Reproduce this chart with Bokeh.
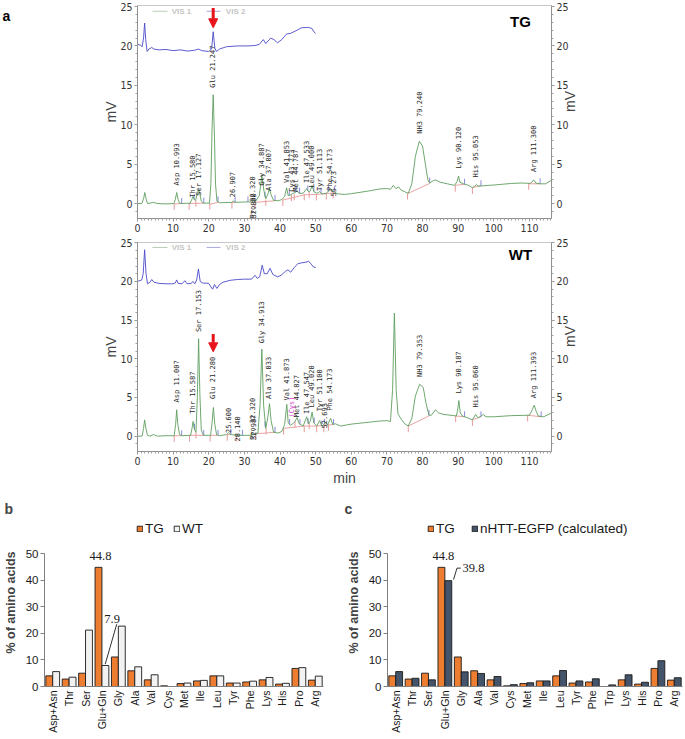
import math
from bokeh.plotting import figure
from bokeh.models import (Range1d, FactorRange, LinearAxis, SingleIntervalTicker, ColumnDataSource,
                          Label, LabelSet, Legend, LegendItem, Arrow, NormalHead)
from bokeh.layouts import column, row
from bokeh.transform import dodge
from bokeh.core.properties import value
from bokeh.embed import file_html
from bokeh.resources import INLINE

# ---------------- Panel a data (chromatograms) ----------------
tg_vis1_x = [0, 1.2, 1.7, 2.05, 2.4, 2.8, 3.5, 4.5, 5.5, 8, 10.2, 10.6, 11.0, 11.4, 11.8, 12.5, 14.8, 15.2, 15.6,
             15.9, 16.3, 16.8, 17.15, 17.5, 17.9, 18.5, 20.2, 20.6, 20.9, 21.25, 21.6, 21.9, 22.3, 23, 26.5, 26.9,
             27.3, 30, 32, 32.5, 33, 34.2, 34.9, 35.5, 36.0, 36.6, 37.05, 37.5, 38.2, 39.5, 40.5, 41.3, 41.85, 42.3,
             43.0, 43.7, 44.3, 44.8, 45.3, 46.5, 47.5, 48.0, 48.5, 49.0, 49.5, 50.3, 51.1, 51.8, 53.0, 54.2, 54.8,
             55.3, 56, 58, 60, 65, 68, 70, 71, 71.8, 72.5, 73.3, 74, 75, 76, 77, 78, 79.1, 80, 80.8, 81.5, 82, 83,
             83.6, 85, 87, 89, 89.7, 90.1, 90.5, 91.5, 93, 94, 94.6, 95.1, 95.6, 97, 100, 105, 108, 110.3, 111.2,
             111.8, 113, 114.5, 116.2]
tg_vis1_y = [0, 0, 0.6, 1.4, 0.6, 0.0, 0.05, 0.15, 0.0, -0.05, 0.0, 0.5, 1.4, 0.5, 0.05, 0.0, 0.05, 0.5, 0.9,
             0.5, 0.4, 1.3, 1.8, 1.2, 0.3, 0.05, 0.05, 2.5, 9.0, 13.8, 8.5, 2.5, 0.3, 0.1, 0.15, 0.35,
             0.15, 0.2, 0.2, 0.35, 0.2, 1.0, 3.6, 1.6, 0.6, 1.2, 1.9, 1.1, 0.4, 0.35, 0.5, 0.9, 2.0, 1.0,
             1.1, 1.3, 1.4, 1.6, 1.3, 1.3, 1.9, 1.5, 1.6, 2.3, 1.5, 1.3, 1.5, 1.2, 1.3, 1.9, 1.5,
             1.5, 1.25, 1.15, 1.25, 1.6, 1.85, 1.9, 1.8, 2.3, 1.9, 2.1, 1.7, 1.5, 1.3, 2.5, 6.0, 7.9, 7.3, 5.0, 3.0,
             2.6, 2.9, 3.0, 2.7, 2.5, 2.3, 2.8, 3.5, 2.7, 2.5, 2.3, 2.0, 2.2, 2.4, 2.2, 2.25, 2.35, 2.55, 2.6, 2.55,
             3.0, 2.6, 2.5, 2.5, 2.95]
tg_vis2_x = [0, 0.8, 1.3, 1.7, 2.0, 2.3, 2.7, 3.2, 4.0, 4.6, 6, 8, 10, 12, 14, 16, 17.2, 18, 20, 20.8, 21.25, 21.7,
             22.2, 23, 25, 28, 31, 33, 34.2, 35.3, 36.0, 37.4, 38.3, 39.3, 40.5, 41.8, 43, 44.8, 46, 48, 49, 49.5, 50]
tg_vis2_y = [20.2, 20.1, 19.9, 21.0, 22.9, 20.8, 19.3, 19.6, 19.8, 19.6, 19.5, 19.55, 19.4, 19.5, 19.35, 19.45, 19.6,
             19.4, 19.3, 19.6, 21.8, 19.7, 19.3, 19.6, 19.9, 20.0, 20.0, 20.05, 20.2, 20.8, 20.3, 21.0, 20.8, 20.4,
             20.8, 21.5, 21.6, 22.0, 22.3, 22.35, 22.2, 21.8, 21.6]

wt_vis1_x = [0, 1.3, 1.7, 2.0, 2.4, 2.8, 3.5, 4.5, 5.5, 8, 10.3, 10.7, 11.0, 11.3, 11.8, 12.5, 14.9, 15.3, 15.6,
             15.95, 16.4, 16.8, 17.15, 17.5, 17.9, 18.5, 20.5, 20.9, 21.3, 21.7, 22.2, 23, 25, 25.6, 26.2, 28, 30,
             32, 33, 33.8, 34.4, 34.9, 35.4, 36.0, 36.6, 37.05, 37.5, 38.2, 39.5, 40.5, 41.3, 41.9, 42.3, 43.0,
             43.6, 44.2, 44.8, 45.4, 46.5, 47.5, 48.0, 48.5, 49.0, 49.5, 50.3, 51.1, 51.8, 52.8, 53.3, 54.2, 54.8,
             55.5, 57, 60, 65, 68, 70, 71.0, 71.6, 72.1, 72.6, 73.1, 74, 75, 76, 77, 78, 79.2, 80.2, 81.0, 81.8,
             82.5, 83.6, 84.5, 86, 88, 89.5, 89.8, 90.2, 90.6, 91.2, 92.5, 94, 94.9, 95.5, 96.2, 97, 97.8, 100,
             105, 110, 110.8, 111.35, 111.9, 112.5, 114, 116.2]
wt_vis1_y = [0, 0, 1.0, 2.1, 0.9, 0.1, 0.0, 0.2, 0.0, 0.05, 0.05, 1.5, 3.4, 1.6, 0.2, 0.05, 0.1, 1.0, 1.9,
             0.9, 0.5, 5.0, 12.6, 5.5, 0.8, 0.1, 0.1, 1.6, 3.7, 1.5, 0.2, 0.05, 0.2, 0.45, 0.2, 0.1, 0.1,
             0.1, 0.3, 0.4, 4.0, 11.25, 4.0, 1.0, 2.5, 4.2, 2.0, 0.5, 0.4, 0.6, 1.5, 4.1, 1.7, 1.4,
             1.6, 1.9, 2.4, 1.6, 1.3, 2.5, 1.6, 1.9, 3.1, 1.7, 1.3, 2.0, 1.3, 1.8, 1.4, 2.3, 1.5,
             1.6, 1.3, 1.55, 1.8, 1.95, 2.0, 1.9, 6.0, 15.9, 6.0, 2.9, 2.2, 1.6, 1.3, 2.3, 5.2, 6.7, 6.3, 4.2, 2.7,
             2.7, 3.4, 3.0, 2.8, 2.7, 2.6, 3.2, 4.6, 3.0, 2.6, 2.4, 2.1, 2.8, 2.4, 2.5, 2.8, 2.5, 2.5,
             2.65, 2.7, 3.4, 4.0, 3.2, 2.6, 2.5, 3.0]
wt_vis2_x = [0, 1.2, 1.6, 2.0, 2.4, 2.8, 3.5, 4.0, 4.6, 6, 8, 10, 10.6, 11.0, 11.4, 12.5, 13.3, 13.9, 15.0, 15.6,
             16.1, 16.6, 17.1, 17.6, 18.3, 20, 20.6, 21.1, 21.6, 22.3, 23.0, 24, 26, 28, 30, 32, 33.0, 33.6, 34.3,
             35.0, 35.6, 36.4, 37.2, 38, 39.3, 40.3, 41.5, 42.2, 43, 44, 45, 46, 47.3, 48, 48.7, 49.3, 50]
wt_vis2_y = [20.0, 20.2, 21.0, 24.1, 21.0, 19.7, 19.9, 20.25, 19.9, 19.75, 19.7, 19.7, 19.8, 20.2, 19.75, 19.7, 20.1,
             19.7, 19.75, 20.0, 19.7, 20.2, 21.6, 20.0, 19.8, 19.75, 19.3, 19.0, 19.6, 19.1, 19.6, 19.9, 20.15,
             20.25, 20.3, 20.3, 20.8, 20.4, 20.6, 22.1, 21.0, 21.0, 21.7, 20.9, 20.6, 20.8, 21.3, 21.5, 21.2, 21.8,
             22.3, 22.4, 22.5, 22.6, 22.3, 21.9, 21.8]

tg_peak_text = ["Asp  10.993", "Thr  15.580", "Ser  17.127", "Glu  21.247", "     26.907", "Pro  32.320",
                "     32.800", "Gly  34.887", "Ala  37.007", "Val  41.853", "Cys  43.773", "Met  44.787",
                "Ile  47.533", "Leu  49.000", "Tyr  51.113", "Phe  54.173", "     55.273", "NH3  79.240",
                "Lys  90.120", "His  95.053", "Arg 111.300"]
tg_peak_x = [10.99, 15.45, 17.13, 21.25, 26.91, 32.32, 32.62, 34.89, 37.01, 41.85, 43.5, 44.6,
             47.53, 49.0, 51.11, 54.17, 55.27, 79.24, 90.12, 95.05, 111.3]
tg_peak_y = [2.3, 0.75, 1.0, 14.7, 0.8, -1.9, -1.9, 2.3, 1.6, 2.6, 1.5, 1.5,
             2.6, 2.0, 1.6, 1.6, 0.9, 8.85, 4.4, 3.3, 4.0]

wt_peak_text = ["Asp  11.007", "Thr  15.587", "Ser  17.153", "Glu  21.280", "     25.600", "     28.140",
                "Pro  32.320", "     32.987", "Gly  34.913", "Ala  37.033", "Val  41.873", "Met  44.827",
                "Ile  47.547", "Leu  49.020", "Tyr  51.100", "     52.693", "Phe  54.173", "NH3  79.353",
                "Lys  90.187", "His  95.060", "Arg 111.393"]
wt_peak_x = [11.01, 15.59, 17.15, 21.28, 25.6, 28.14, 32.32, 32.7, 34.91, 37.03, 41.87, 44.83,
             47.55, 49.02, 51.1, 52.69, 54.17, 79.35, 90.19, 95.06, 111.39]
wt_peak_y = [4.35, 2.9, 13.45, 4.8, 0.4, -0.7, -0.5, -0.5, 12.0, 4.8, 4.6, 2.45,
             2.85, 3.7, 3.2, 1.0, 3.3, 7.65, 5.5, 3.7, 4.9]

tg_start_x = [10.3, 14.5, 16.4, 20.3, 26.5, 33.0, 36.0, 40.8, 43.2, 44.0, 46.8, 48.2, 50.2, 53.0, 54.9, 75.8, 89.2, 94.0, 109.8]
tg_start_y = [0.0, 0.0, 0.4, 0.05, 0.15, 0.2, 0.5, 0.5, 1.1, 1.2, 1.2, 1.5, 1.2, 1.3, 1.45, 1.3, 2.3, 2.0, 2.55]
tg_end_x = [12.4, 15.9, 18.6, 22.6, 27.4, 31.0, 35.8, 38.6, 42.6, 44.5, 45.5, 47.8, 49.5, 51.5, 53.6, 55.3, 82.0, 91.8, 96.4, 113.0]
tg_end_y = [0.0, 0.5, 0.05, 0.2, 0.15, 0.2, 0.8, 0.4, 1.0, 1.5, 1.3, 1.6, 1.5, 1.3, 1.5, 1.5, 2.6, 2.45, 2.25, 2.5]
tg_base_x0 = [10.3, 14.5, 20.3, 26.5, 33.0, 40.8, 46.8, 50.2, 75.8, 89.2, 94.0, 109.8]
tg_base_y0 = [-0.05, 0.0, -0.1, 0.1, 0.15, 0.45, 1.1, 1.15, 1.25, 2.3, 2.0, 2.5]
tg_base_x1 = [12.3, 18.6, 22.6, 27.4, 38.6, 46.8, 50.2, 55.3, 82.0, 91.8, 96.4, 113.0]
tg_base_y1 = [0.0, 0.05, 0.15, 0.15, 0.35, 1.1, 1.15, 1.35, 2.55, 2.45, 2.3, 2.5]

wt_start_x = [10.3, 14.6, 16.4, 20.4, 25.2, 27.8, 33.2, 36.1, 41.0, 44.2, 46.8, 48.2, 50.3, 52.3, 53.6, 76.0, 89.3, 94.0, 109.5]
wt_start_y = [0.05, 0.1, 0.5, 0.1, 0.2, 0.1, 0.3, 1.0, 1.0, 1.9, 1.3, 1.7, 1.3, 1.3, 1.5, 1.3, 2.6, 2.1, 2.7]
wt_end_x = [12.4, 16.0, 18.6, 22.6, 26.2, 29.5, 35.8, 38.6, 42.7, 45.6, 47.9, 49.6, 51.6, 52.5, 55.0, 81.8, 91.8, 96.4, 113.3]
wt_end_y = [0.05, 0.9, 0.1, 0.1, 0.2, 0.1, 1.2, 0.5, 1.5, 1.5, 1.6, 1.7, 1.3, 1.5, 1.5, 2.7, 2.5, 2.5, 2.5]
wt_base_x0 = [10.3, 14.6, 20.4, 25.2, 33.2, 41.0, 46.8, 50.3, 76.0, 89.3, 94.0, 109.5]
wt_base_y0 = [0.05, 0.1, 0.1, 0.2, 0.3, 1.0, 1.3, 1.3, 1.3, 2.6, 2.1, 2.7]
wt_base_x1 = [12.4, 18.6, 22.6, 26.2, 38.6, 46.8, 50.3, 55.0, 81.8, 91.8, 96.4, 113.3]
wt_base_y1 = [0.05, 0.1, 0.1, 0.2, 0.5, 1.3, 1.3, 1.5, 2.6, 2.5, 2.5, 2.5]

# ---------------- Panels b / c data ----------------
cats_b = ["Asp+Asn", "Thr", "Ser", "Glu+Gln", "Gly", "Ala", "Val", "Cys", "Met", "Ile", "Leu", "Tyr", "Phe",
          "Lys", "His", "Pro", "Arg"]
tg_b = [4.0, 2.8, 5.0, 44.8, 11.1, 5.9, 2.5, 0.25, 1.1, 2.1, 4.0, 1.3, 1.7, 2.5, 0.9, 6.8, 2.4]
wt_b = [5.6, 3.5, 21.2, 7.9, 22.7, 7.4, 4.4, 0.0, 1.3, 2.3, 4.0, 1.3, 2.0, 3.4, 1.2, 7.1, 3.9]

cats_c = ["Asp+Asn", "Thr", "Ser", "Glu+Gln", "Gly", "Ala", "Val", "Cys", "Met", "Ile", "Leu", "Tyr", "Phe",
          "Trp", "Lys", "His", "Pro", "Arg"]
tg_c = [4.0, 2.8, 5.0, 44.8, 11.1, 5.9, 2.5, 0.25, 1.1, 2.1, 4.0, 1.3, 1.7, 0.0, 2.5, 0.9, 6.8, 2.4]
nhtt_c = [5.6, 3.1, 2.5, 39.8, 5.5, 4.9, 3.75, 0.7, 1.4, 2.1, 6.0, 2.1, 2.9, 0.6, 4.4, 1.6, 9.7, 3.3]

ORANGE = "#ED7D31"
NAVY = "#44546A"
LIGHT = "#F2F2F2"
NARROW = "'Liberation Sans Narrow', 'DejaVu Sans Condensed', 'Liberation Sans', sans-serif"
ARIAL = "Liberation Sans"


def chromatogram(vis1_x, vis1_y, vis2_x, vis2_y, ptext, px, py, sx, sy, ex, ey, bx0, by0, bx1, by1,
                 yr, width, left, height, btop, bbottom, tag, arrow_y, with_min, cys=None):
    p = figure(width=width, height=height, x_range=Range1d(0, 116.2), y_range=Range1d(*yr),
               output_backend="svg", toolbar_location=None,
               min_border_left=left, min_border_right=133, min_border_top=btop, min_border_bottom=bbottom)
    p.xgrid.visible = False
    p.ygrid.visible = False
    p.outline_line_color = "#c8c8c8"

    right = LinearAxis()
    p.add_layout(right, "right")
    for ax in p.yaxis:
        ax.ticker = SingleIntervalTicker(interval=5, num_minor_ticks=5)
        ax.axis_label = "mV"
        ax.axis_label_text_font = ARIAL
        ax.axis_label_text_font_style = "normal"
        ax.axis_label_text_font_size = "14px"
        ax.axis_label_standoff = -2
    if "axis_label_orientation" in right.properties():
        right.axis_label_orientation = math.pi / 2
    for ax in p.xaxis:
        ax.ticker = SingleIntervalTicker(interval=10, num_minor_ticks=10)
    if with_min:
        p.xaxis[0].axis_label = "min"
        p.xaxis[0].axis_label_text_font = ARIAL
        p.xaxis[0].axis_label_text_font_style = "normal"
        p.xaxis[0].axis_label_text_font_size = "14px"
        p.xaxis[0].axis_label_standoff = 2
    for ax in list(p.xaxis) + list(p.yaxis):
        ax.axis_line_color = "#909090"
        ax.major_tick_line_color = "#909090"
        ax.minor_tick_line_color = "#a0a0a0"
        ax.major_tick_in = 0
        ax.major_tick_out = 3
        ax.minor_tick_in = 0
        ax.minor_tick_out = 2
        ax.major_label_text_font = NARROW
        ax.major_label_text_font_size = "10.5px"
        ax.major_label_text_color = "#333333"
        ax.major_label_standoff = 2

    # integration baselines and markers
    p.segment(x0=bx0, y0=by0, x1=bx1, y1=by1, line_color="#e89a9a", line_width=0.9)
    p.segment(x0=sx, y0=sy, x1=sx, y1=[v - 0.8 for v in sy], line_color="#e89a9a", line_width=1)
    p.segment(x0=ex, y0=ey, x1=ex, y1=[v + 0.7 for v in ey], line_color="#8a8ae0", line_width=1)

    # traces
    p.line(vis2_x, vis2_y, line_color="#4a4ac8", line_width=0.9)
    p.line(vis1_x, vis1_y, line_color="#5f9e5f", line_width=0.9)

    # legend VIS1 / VIS2
    p.segment(x0=[4.2], y0=[24.4], x1=[8.4], y1=[24.4], line_color="#b8ccb8", line_width=1)
    p.segment(x0=[19.4], y0=[24.4], x1=[23.3], y1=[24.4], line_color="#a8a8dc", line_width=1)
    p.text(x=[9.6, 24.8], y=[24.4, 24.4], text=["VIS 1", "VIS 2"], text_font=value(ARIAL),
           text_font_style="bold", text_font_size=value("8px"), text_color="#c4c4c4",
           text_baseline="middle", text_align="left")

    # peak labels
    p.text(x=px, y=py, text=ptext, angle=math.pi / 2, text_font=value("DejaVu Sans Mono"),
           text_font_size=value("7px"), text_color="#2a2a2a", text_align="left", text_baseline="middle")
    if cys is not None:
        p.text(x=[cys[0]], y=[cys[1]], text=["(Cys)"], angle=math.pi / 2, text_font=value("DejaVu Sans Mono"),
               text_font_size=value("7px"), text_color="#d040d0", text_align="left", text_baseline="middle")

    p.add_layout(Arrow(end=NormalHead(size=9, fill_color="#e8141c", line_color="#e8141c"),
                       x_start=21.25, y_start=arrow_y[0], x_end=21.25, y_end=arrow_y[1],
                       line_color="#e8141c", line_width=3))

    p.add_layout(Label(x=383, y=197, x_units="screen", y_units="screen", text=tag, text_font=ARIAL,
                       text_font_style="bold", text_font_size="15px", text_align="center",
                       text_baseline="middle", text_color="black"))
    return p


# small figure holding the panel letter "a"
pa_letter = figure(width=20, height=237, x_range=Range1d(0, 20), y_range=Range1d(0, 237),
                   x_axis_type=None, y_axis_type=None, output_backend="svg", toolbar_location=None,
                   min_border_left=0, min_border_right=0, min_border_top=0, min_border_bottom=0)
pa_letter.outline_line_color = None
pa_letter.xgrid.visible = False
pa_letter.ygrid.visible = False
pa_letter.text(x=[2], y=[225], text=["a"], text_font=value(ARIAL), text_font_style="bold",
               text_font_size=value("14px"), text_baseline="alphabetic", text_align="left")

pa1 = chromatogram(tg_vis1_x, tg_vis1_y, tg_vis2_x, tg_vis2_y, tg_peak_text, tg_peak_x, tg_peak_y,
                   tg_start_x, tg_start_y, tg_end_x, tg_end_y, tg_base_x0, tg_base_y0, tg_base_x1, tg_base_y1,
                   (-1.9, 25.13), 664, 117, 237, 5, 19, "TG", (24.8, 22.3), False)
pa2 = chromatogram(wt_vis1_x, wt_vis1_y, wt_vis2_x, wt_vis2_y, wt_peak_text, wt_peak_x, wt_peak_y,
                   wt_start_x, wt_start_y, wt_end_x, wt_end_y, wt_base_x0, wt_base_y0, wt_base_x1, wt_base_y1,
                   (-1.99, 25.04), 684, 137, 251, 5, 33, "WT", (13.2, 10.9), True, cys=(43.4, 2.4))

YTOP = 50 * 168 / 133  # frame extends above the 50 tick to hold the legend and labels


def bar_panel(cats, s1, s2, c2, label2, left, right, legend_x, spacing, letter):
    p = figure(width=342, height=251, x_range=FactorRange(*cats), y_range=Range1d(0, YTOP),
               output_backend="svg", toolbar_location=None,
               min_border_left=left, min_border_right=right, min_border_top=30, min_border_bottom=53)
    p.xgrid.visible = False
    p.ygrid.visible = False
    p.outline_line_color = None
    p.title.text = letter
    p.title.text_font = ARIAL
    p.title.text_font_style = "bold"
    p.title.text_font_size = "14px"
    p.title.align = "left"
    p.title.offset = -left + 2
    p.title.standoff = 4
    src = ColumnDataSource(dict(cat=cats, a=s1, b=s2))
    r1 = p.vbar(x=dodge("cat", -0.21, range=p.x_range), top="a", width=0.42, source=src,
                fill_color=ORANGE, line_color="#1a1a1a", line_width=0.9)
    r2 = p.vbar(x=dodge("cat", 0.21, range=p.x_range), top="b", width=0.42, source=src,
                fill_color=c2, line_color="#1a1a1a", line_width=0.9)
    p.yaxis.ticker = SingleIntervalTicker(interval=10, num_minor_ticks=0)
    p.yaxis.bounds = (0, 50)
    p.yaxis.axis_label = "% of amino acids"
    p.yaxis.axis_label_text_font = ARIAL
    p.yaxis.axis_label_text_font_style = "bold"
    p.yaxis.axis_label_text_font_size = "12.5px"
    p.yaxis.axis_label_standoff = 5
    p.yaxis.major_tick_out = 4
    p.yaxis.major_tick_in = 0
    p.yaxis.minor_tick_out = 0
    p.yaxis.major_label_standoff = 2
    p.xaxis.major_tick_out = 0
    p.xaxis.major_tick_in = 0
    p.xaxis.major_label_orientation = math.pi / 2
    p.xaxis.major_label_standoff = 4
    for ax in list(p.xaxis) + list(p.yaxis):
        ax.axis_line_color = "#7f7f7f"
        ax.major_tick_line_color = "#7f7f7f"
        ax.major_label_text_font = ARIAL
        ax.major_label_text_color = "#1a1a1a"
    p.yaxis.major_label_text_font_size = "11.5px"
    p.xaxis.major_label_text_font_size = "10.5px"

    legend = Legend(items=[LegendItem(label="TG", renderers=[r1]), LegendItem(label=label2, renderers=[r2])],
                    orientation="horizontal", location=(legend_x, 149), glyph_width=7, glyph_height=7,
                    label_standoff=2, spacing=spacing, padding=0, margin=0, border_line_color=None,
                    background_fill_alpha=0, label_text_font=ARIAL, label_text_font_size="13.5px",
                    label_text_color="#1a1a1a", label_height=18)
    p.add_layout(legend, "center")
    return p


pb = bar_panel(cats_b, tg_b, wt_b, LIGHT, "WT", 42, 19, 92, 8, "b")
pc = bar_panel(cats_c, tg_c, nhtt_c, NAVY, "nHTT-EGFP (calculated)", 45, 2, 40, 15, "c")

TXT = dict(text_font=ARIAL, text_font_size="12.5px", text_color="#1a1a1a", text_baseline="middle")

# annotations b
ann_b = ColumnDataSource(dict(cat=["Glu+Gln"], y=[49.0], text=["44.8"]))
pb.add_layout(LabelSet(x=dodge("cat", -0.09, range=pb.x_range), y="y", text="text", source=ann_b,
                       text_align="center", **TXT))
ann_b2 = ColumnDataSource(dict(cat=["Glu+Gln"], y=[25.4], text=["7.9"]))
pb.add_layout(LabelSet(x=dodge("cat", 0.62, range=pb.x_range), y="y", text="text", source=ann_b2,
                       text_align="center", **TXT))
lead_b = ColumnDataSource(dict(cat=["Glu+Gln"], y0=[8.4], y1=[23.4]))
pb.segment(x0=dodge("cat", 0.2, range=pb.x_range), y0="y0", x1=dodge("cat", 0.9, range=pb.x_range), y1="y1",
           source=lead_b, line_color="#1a1a1a", line_width=0.9)

# annotations c
ann_c = ColumnDataSource(dict(cat=["Glu+Gln"], y=[49.0], text=["44.8"]))
pc.add_layout(LabelSet(x=dodge("cat", -0.09, range=pc.x_range), y="y", text="text", source=ann_c,
                       text_align="center", **TXT))
ann_c2 = ColumnDataSource(dict(cat=["Glu+Gln"], y=[44.5], text=["39.8"]))
pc.add_layout(LabelSet(x=dodge("cat", 1.08, range=pc.x_range), y="y", text="text", source=ann_c2,
                       text_align="left", **TXT))
lead_c = ColumnDataSource(dict(cat=["Glu+Gln"], y0=[40.2], y1=[44.5]))
pc.segment(x0=dodge("cat", 0.53, range=pc.x_range), y0="y0", x1=dodge("cat", 0.74, range=pc.x_range), y1="y1",
           source=lead_c, line_color="#1a1a1a", line_width=0.9)
pc.segment(x0=dodge("cat", 0.74, range=pc.x_range), y0="y1", x1=dodge("cat", 0.97, range=pc.x_range), y1="y1",
           source=lead_c, line_color="#1a1a1a", line_width=0.9)

layout = column(row(pa_letter, pa1), pa2, row(pb, pc))

open("out.html", "w").write(file_html(layout, INLINE))
